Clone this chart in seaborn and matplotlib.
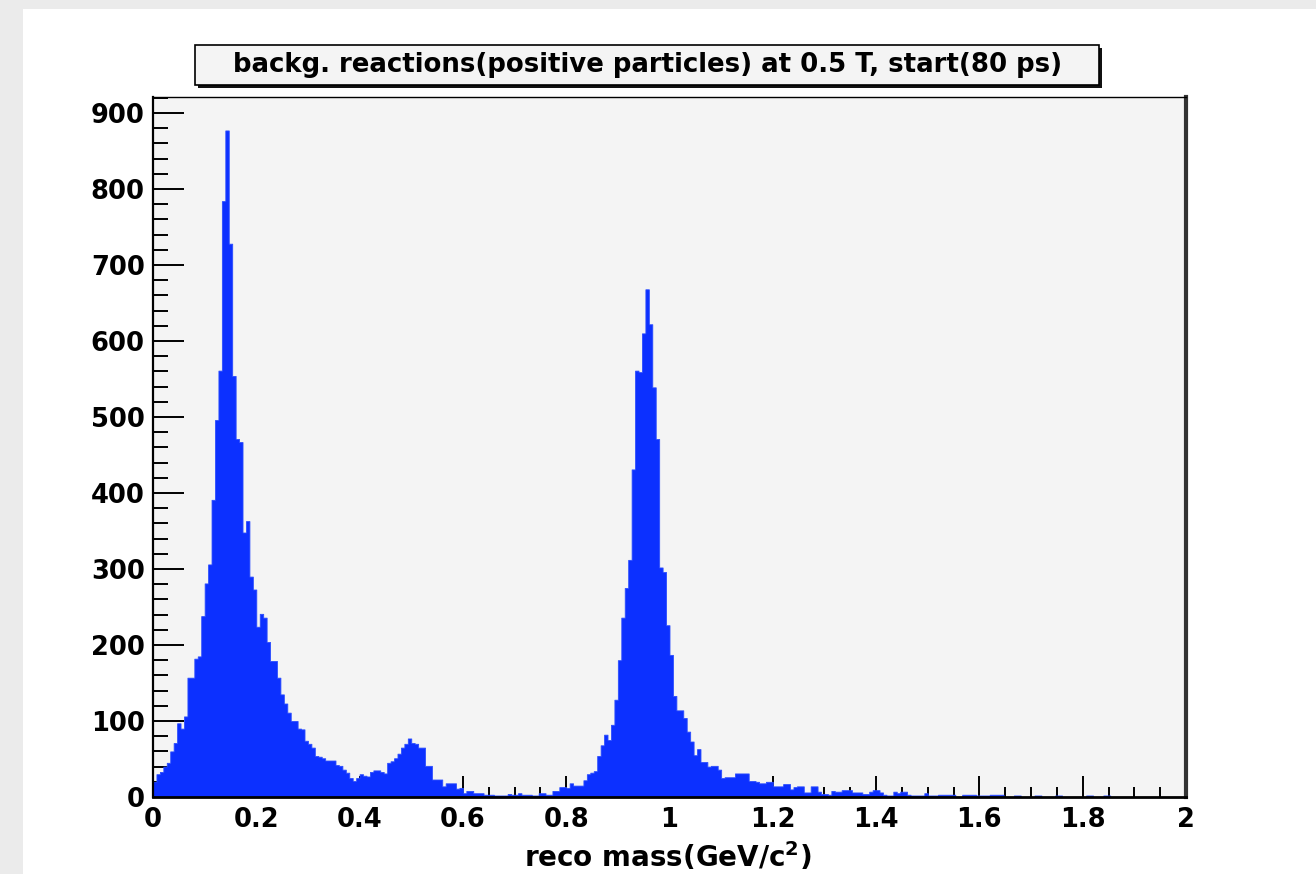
import numpy as np
import pandas as pd
import matplotlib
matplotlib.use("Agg")
import matplotlib.pyplot as plt
import seaborn as sns
from matplotlib.patches import Rectangle
from matplotlib.ticker import FixedLocator, FixedFormatter, MultipleLocator

# ---------------- data ----------------
x_min, x_max, n_bins = 0.0, 2.0, 300
counts = [
    20, 30, 33, 40, 45, 60, 71, 97, 90, 106,
    157, 157, 182, 185, 238, 281, 306, 391, 496, 561,
    784, 877, 728, 554, 471, 467, 348, 363, 290, 273,
    224, 241, 236, 204, 179, 179, 157, 135, 123, 111,
    100, 100, 90, 89, 74, 70, 65, 54, 53, 51,
    48, 48, 48, 42, 41, 36, 32, 25, 21, 25,
    30, 28, 27, 33, 35, 35, 33, 31, 45, 47,
    51, 57, 65, 70, 77, 71, 70, 65, 65, 41,
    41, 23, 23, 23, 14, 18, 18, 18, 11, 12,
    5, 8, 8, 5, 5, 5, 3, 3, 3, 2,
    2, 2, 2, 4, 3, 3, 5, 3, 3, 3,
    2, 2, 5, 5, 3, 3, 8, 8, 13, 13,
    12, 18, 15, 15, 15, 22, 30, 32, 34, 54,
    68, 82, 75, 95, 128, 180, 236, 275, 312, 431,
    561, 559, 610, 668, 622, 539, 471, 302, 296, 226,
    187, 133, 114, 114, 104, 86, 73, 55, 63, 46,
    46, 40, 41, 41, 36, 25, 26, 26, 26, 31,
    31, 31, 31, 21, 21, 20, 18, 18, 20, 20,
    14, 14, 14, 17, 17, 10, 13, 14, 14, 6,
    6, 14, 14, 7, 4, 4, 3, 8, 7, 7,
    9, 9, 9, 6, 6, 6, 4, 4, 7, 9,
    9, 6, 3, 2, 2, 7, 5, 7, 7, 3,
    2, 2, 2, 2, 5, 2, 2, 2, 3, 3,
    3, 3, 3, 0, 0, 3, 3, 3, 3, 2,
    2, 2, 2, 3, 3, 3, 3, 0, 0, 0,
    2, 2, 0, 0, 0, 0, 2, 2, 0, 0,
    0, 0, 2, 2, 0, 0, 0, 0, 0, 0,
    0, 2, 2, 0, 0, 0, 2, 2, 0, 0,
    0, 0, 0, 0, 0, 0, 0, 0, 0, 0,
    0, 0, 0, 0, 0, 0, 0, 0, 0, 0,
]
title_text = "backg. reactions(positive particles) at 0.5 T, start(80 ps)"
x_label = r"reco mass(GeV/c$^{2}$)"
x_ticks = [0.0, 0.2, 0.4, 0.6, 0.8, 1.0, 1.2, 1.4, 1.6, 1.8, 2.0]
x_tick_labels = ["0", "0.2", "0.4", "0.6", "0.8", "1", "1.2", "1.4", "1.6", "1.8", "2"]
y_ticks = [0, 100, 200, 300, 400, 500, 600, 700, 800, 900]
y_tick_labels = ["0", "100", "200", "300", "400", "500", "600", "700", "800", "900"]
y_max = 921

bin_w = (x_max - x_min) / n_bins
centers = x_min + bin_w * (np.arange(n_bins) + 0.5)
df = pd.DataFrame({"mass": centers, "count": counts})

# ---------------- style ----------------
sns.set_theme(style="white")
plt.rcParams["font.family"] = ["DejaVu Sans"]
plt.rcParams["font.weight"] = "bold"
plt.rcParams["text.color"] = "black"
plt.rcParams["xtick.color"] = "black"
plt.rcParams["ytick.color"] = "black"
plt.rcParams["mathtext.fontset"] = "custom"
plt.rcParams["mathtext.rm"] = "DejaVu Sans:bold"
plt.rcParams["mathtext.bf"] = "DejaVu Sans:bold"
plt.rcParams["mathtext.it"] = "DejaVu Sans:bold"

W, H = 1316, 874
fig = plt.figure(figsize=(W / 100, H / 100), dpi=100, facecolor="white")

def fx(x):
    return x / W

def fy(y):
    return 1 - y / H

# outer gray band (screenshot border)
fig.patches.append(Rectangle((0, 0), fx(23), 1, transform=fig.transFigure,
                             facecolor="#ebebeb", edgecolor="none", zorder=0))
fig.patches.append(Rectangle((0, fy(9)), 1, 9 / H, transform=fig.transFigure,
                             facecolor="#ebebeb", edgecolor="none", zorder=0))

ax = fig.add_axes([fx(153), fy(797), fx(1186) - fx(153), fy(97) - fy(797)])
ax.set_facecolor("#f4f4f4")

sns.histplot(data=df, x="mass", weights="count", bins=n_bins,
             binrange=(x_min, x_max), element="step",
             fill=True, color="#0c30ff", alpha=1.0, linewidth=0.6,
             edgecolor="#2a4cff", ax=ax)

ax.set_xlim(x_min, x_max)
ax.set_ylim(0, y_max)
ax.xaxis.set_major_locator(FixedLocator(x_ticks))
ax.xaxis.set_major_formatter(FixedFormatter(x_tick_labels))
ax.xaxis.set_minor_locator(MultipleLocator(0.05))
ax.yaxis.set_major_locator(FixedLocator(y_ticks))
ax.yaxis.set_major_formatter(FixedFormatter(y_tick_labels))
ax.yaxis.set_minor_locator(MultipleLocator(20))

ax.tick_params(axis="x", which="major", direction="in", length=15, width=1.4,
               color="black", labelcolor="black", labelsize=18.5, pad=7,
               bottom=True, top=False)
ax.tick_params(axis="x", which="minor", direction="in", length=7.5, width=1.4,
               color="black", bottom=True, top=False)
ax.tick_params(axis="y", which="major", direction="in", length=22, width=1.4,
               color="black", labelcolor="black", labelsize=18.5, pad=6,
               left=True, right=False)
ax.tick_params(axis="y", which="minor", direction="in", length=11, width=1.4,
               color="black", left=True, right=False)
for lab in ax.get_xticklabels() + ax.get_yticklabels():
    lab.set_fontweight("bold")

ax.set_xlabel("")
ax.set_ylabel("")
for side, lw, col in [("left", 1.6, "black"), ("bottom", 2.0, "black"),
                      ("top", 1.0, "black"), ("right", 3.0, "#333333")]:
    ax.spines[side].set_visible(True)
    ax.spines[side].set_linewidth(lw)
    ax.spines[side].set_color(col)

fig.text(fx(668), fy(857), x_label, ha="center", va="center",
         fontsize=20, fontweight="bold", color="black")

# title box with shadow
bx0, bx1, by0, by1 = 195, 1099, 45, 85
fig.patches.append(Rectangle((fx(bx0 + 3), fy(by1 + 3)), fx(bx1 - bx0), (by1 - by0) / H,
                             transform=fig.transFigure, facecolor="#111111",
                             edgecolor="none", zorder=1))
fig.patches.append(Rectangle((fx(bx0), fy(by1)), fx(bx1 - bx0), (by1 - by0) / H,
                             transform=fig.transFigure, facecolor="#f4f4f4",
                             edgecolor="black", linewidth=1.2, zorder=2))
fig.text(fx(648), fy(65), title_text, ha="center", va="center",
         fontsize=18.7, fontweight="bold", color="black", zorder=3)

fig.savefig("out.png", dpi=100, facecolor=fig.get_facecolor())
